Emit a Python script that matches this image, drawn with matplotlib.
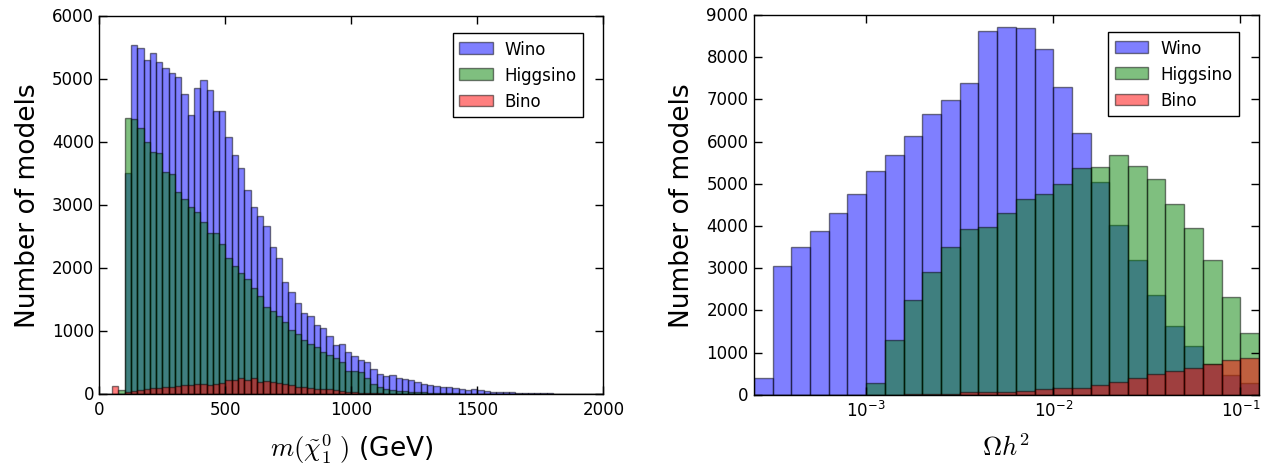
import numpy as np
import matplotlib
matplotlib.use('Agg')
import matplotlib.pyplot as plt
from matplotlib.ticker import NullLocator, LogLocator

plt.style.use('classic')
plt.rcParams['figure.facecolor'] = 'white'
plt.rcParams['savefig.facecolor'] = 'white'

labels = ['Wino', 'Higgsino', 'Bino']
colors = ['b', 'g', 'r']

# neutralino mass histogram, 25 GeV bins from 0 to 2000
mass_edges = np.arange(0, 2001, 25)
wino_mass = [0, 0, 0, 0, 3503, 5532, 5490, 5305, 5406, 5263, 5178, 5099, 5036, 4756, 4423, 4861,
             4983, 4819, 4491, 4491, 4079, 3794, 3583, 3234, 2964, 2827, 2674, 2341, 2151, 1781,
             1612, 1443, 1284, 1242, 1099, 1041, 914, 777, 793, 660, 607, 544, 502, 396, 317, 290,
             295, 260, 235, 220, 192, 158, 143, 130, 116, 106, 92, 79, 63, 79, 63, 48, 37, 35, 26,
             24, 21, 19, 16, 14, 12, 10, 6, 3, 2, 2, 1, 1, 0, 0]
higgsino_mass = [0, 0, 0, 70, 4386, 4359, 4227, 4005, 3847, 3831, 3530, 3487, 3213, 3102, 2975,
                 2890, 2732, 2557, 2557, 2378, 2166, 2024, 1913, 1823, 1675, 1548, 1374, 1310, 1236,
                 1136, 1015, 951, 861, 793, 750, 671, 624, 565, 507, 370, 370, 343, 250, 158, 106,
                 85, 65, 55, 45, 37, 30, 25, 20, 16, 12, 10, 8, 6, 5, 4, 3, 2, 2, 1,
                 0, 0, 0, 0, 0, 0, 0, 0, 0, 0, 0, 0, 0, 0, 0, 0]
bino_mass = [0, 0, 125, 0, 26, 42, 63, 79, 90, 95, 106, 116, 132, 148, 148, 159, 153, 143, 164, 180,
             227, 216, 248, 216, 248, 190, 206, 190, 169, 164, 148, 111, 106, 95, 74, 79, 84, 58, 48,
             37, 26, 20, 15, 12, 9, 7, 5, 4, 3, 2, 1,
             0, 0, 0, 0, 0, 0, 0, 0, 0, 0, 0, 0, 0, 0, 0, 0, 0, 0, 0, 0, 0, 0, 0, 0, 0, 0, 0, 0, 0]

# relic density histogram, 0.1 decade bins from 10^-3.6 to 10^-0.9
omega_edges = np.logspace(-3.6, -0.9, 28)
wino_omega = [390, 3060, 3494, 3874, 4316, 4759, 5296, 5676, 6142, 6648, 6996, 7383, 8625, 8719,
              8696, 8200, 7300, 6198, 5036, 4017, 3194, 2357, 1637, 1147, 725, 467, 270]
higgsino_omega = [0, 0, 0, 0, 0, 0, 269, 1304, 2245, 2917, 3494, 3921, 3968, 4316, 4640, 4752,
                  4989, 5368, 5407, 5684, 5431, 5108, 4530, 3953, 3194, 2317, 1463]
bino_omega = [0, 0, 0, 0, 0, 0, 0, 0, 5, 10, 20, 56, 71, 60, 80, 127, 151, 166, 230, 293, 390,
              480, 560, 640, 728, 820, 863]

fig = plt.figure(figsize=(12.64, 4.64), dpi=100)
ax1 = fig.add_axes([0.0787, 0.1487, 0.3987, 0.8147])
ax2 = fig.add_axes([0.5965, 0.1472, 0.3995, 0.8183])

mass_centers = 0.5 * (mass_edges[:-1] + mass_edges[1:])
omega_centers = np.sqrt(omega_edges[:-1] * omega_edges[1:])

for vals, c, lab in zip([wino_mass, higgsino_mass, bino_mass], colors, labels):
    ax1.hist(mass_centers, bins=mass_edges, weights=vals, color=c, alpha=0.5,
             edgecolor='k', linewidth=1, label=lab)
for vals, c, lab in zip([wino_omega, higgsino_omega, bino_omega], colors, labels):
    ax2.hist(omega_centers, bins=omega_edges, weights=vals, color=c, alpha=0.5,
             edgecolor='k', linewidth=1, label=lab)

ax1.set_xlim(0, 2000)
ax1.set_ylim(0, 6000)
ax1.set_xticks([0, 500, 1000, 1500, 2000])
ax1.set_yticks(range(0, 6001, 1000))
ax1.set_xlabel(r'$m(\tilde{\chi}^0_1\ )$ (GeV)', fontsize=19, labelpad=10)
ax1.set_ylabel('Number of models', fontsize=19, labelpad=8)

ax2.set_xscale('log')
ax2.set_xlim(omega_edges[0], omega_edges[-1])
ax2.set_ylim(0, 9000)
ax2.set_yticks(range(0, 9001, 1000))
ax2.xaxis.set_major_locator(LogLocator(base=10))
ax2.xaxis.set_minor_locator(NullLocator())
ax2.set_xlabel(r'$\Omega h^2$', fontsize=19, labelpad=10)
ax2.set_ylabel('Number of models', fontsize=19, labelpad=8)

for ax in (ax1, ax2):
    ax.tick_params(which='major', direction='in', length=6, width=1, labelsize=12)
    leg = ax.legend(loc='upper right', bbox_to_anchor=(0.96, 0.955), borderaxespad=0,
                    fontsize=12, fancybox=False, handlelength=2.0, handletextpad=0.7)
    leg.get_frame().set_edgecolor('k')

fig.savefig('out.png', dpi=100)
